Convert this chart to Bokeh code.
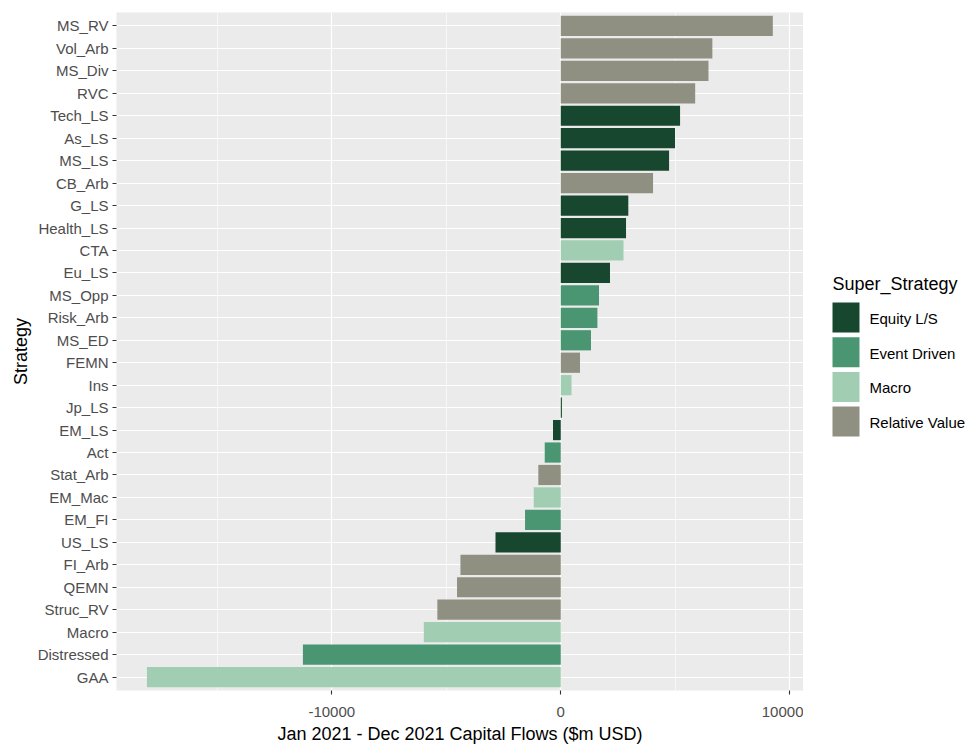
from bokeh.plotting import figure
from bokeh.models import (ColumnDataSource, FactorRange, Range1d, FixedTicker,
                          NumeralTickFormatter)
from bokeh.layouts import row
from bokeh.core.properties import value
from bokeh.embed import file_html
from bokeh.resources import INLINE

# ---- data (top of chart to bottom) ----
strategies = ["MS_RV", "Vol_Arb", "MS_Div", "RVC", "Tech_LS", "As_LS", "MS_LS",
              "CB_Arb", "G_LS", "Health_LS", "CTA", "Eu_LS", "MS_Opp", "Risk_Arb",
              "MS_ED", "FEMN", "Ins", "Jp_LS", "EM_LS", "Act", "Stat_Arb",
              "EM_Mac", "EM_FI", "US_LS", "FI_Arb", "QEMN", "Struc_RV", "Macro",
              "Distressed", "GAA"]
flows = [9260, 6620, 6450, 5870, 5210, 4990, 4730,
         4030, 2950, 2850, 2740, 2150, 1670, 1600,
         1320, 840, 470, 50, -340, -700, -980,
         -1180, -1560, -2850, -4380, -4530, -5390, -5980,
         -11260, -18070]
super_strategy = ["Relative Value", "Relative Value", "Relative Value", "Relative Value",
                  "Equity L/S", "Equity L/S", "Equity L/S", "Relative Value",
                  "Equity L/S", "Equity L/S", "Macro", "Equity L/S", "Event Driven",
                  "Event Driven", "Event Driven", "Relative Value", "Macro",
                  "Equity L/S", "Equity L/S", "Event Driven", "Relative Value",
                  "Macro", "Event Driven", "Equity L/S", "Relative Value",
                  "Relative Value", "Relative Value", "Macro", "Event Driven", "Macro"]
groups = ["Equity L/S", "Event Driven", "Macro", "Relative Value"]
group_colors = ["#18472F", "#4A9672", "#A1CDB2", "#8F8F82"]
x_ticks = [-10000, 0, 10000]
x_minor = [-15000, -5000, 5000]

FONT = "Liberation Sans"
color_of = dict(zip(groups, group_colors))

p = figure(width=803, height=747, output_backend="svg", toolbar_location=None,
           y_range=FactorRange(factors=list(reversed(strategies)),
                               range_padding=0.1, range_padding_units="absolute"),
           x_range=Range1d(-19400, 10600),
           min_border_left=116, min_border_top=12, min_border_right=0,
           min_border_bottom=57)

p.background_fill_color = "#EBEBEB"
p.border_fill_color = "white"
p.outline_line_color = None

src = ColumnDataSource(dict(y=strategies, v=flows,
                            c=[color_of[g] for g in super_strategy]))
p.hbar(y="y", left=0, right="v", height=0.9, source=src,
       fill_color="c", line_color=None)

# grids
p.xaxis.ticker = FixedTicker(ticks=x_ticks, minor_ticks=x_minor)
p.xgrid.grid_line_color = "white"
p.xgrid.grid_line_width = 1.2
p.xgrid.minor_grid_line_color = "white"
p.xgrid.minor_grid_line_width = 0.6
p.ygrid.grid_line_color = "white"
p.ygrid.grid_line_width = 1.2

# axes
for ax in (p.xaxis[0], p.yaxis[0]):
    ax.axis_line_color = None
    ax.major_tick_line_color = "#333333"
    ax.major_tick_line_width = 1.1
    ax.major_tick_out = 4
    ax.major_tick_in = 0
    ax.minor_tick_line_color = None
    ax.major_label_text_font = FONT
    ax.major_label_text_font_size = "15px"
    ax.major_label_text_color = "#4D4D4D"
    ax.axis_label_text_font = FONT
    ax.axis_label_text_font_size = "18px"
    ax.axis_label_text_font_style = "normal"
    ax.axis_label_text_color = "black"

p.xaxis.formatter = NumeralTickFormatter(format="0")
p.xaxis.axis_label = "Jan 2021 - Dec 2021 Capital Flows ($m USD)"
p.xaxis.major_label_standoff = 12
p.xaxis.axis_label_standoff = 4
p.yaxis.axis_label = "Strategy"
p.yaxis.major_label_standoff = 4
p.yaxis.axis_label_standoff = 4

# ---- legend panel (separate figure on the right) ----
# In a row, the frame of this figure is aligned with the main frame (y 12..690),
# so the y range is set to those pixel rows.
lg = figure(width=163, height=747, output_backend="svg", toolbar_location=None,
            x_range=Range1d(0, 163), y_range=Range1d(690, 12),
            x_axis_location=None, y_axis_location=None,
            min_border=0, min_border_left=0, min_border_right=0,
            min_border_top=12, min_border_bottom=57)
lg.grid.visible = False
lg.outline_line_color = None
lg.background_fill_color = None
lg.border_fill_color = "white"

key_left, key_w, key_h, key_step, key_top0 = 29, 27, 30, 34.7, 302
tops = [key_top0 + key_step * i for i in range(len(groups))]
ksrc = ColumnDataSource(dict(
    left=[key_left] * len(groups), right=[key_left + key_w] * len(groups),
    top=tops, bottom=[t + key_h for t in tops],
    color=group_colors, label=groups,
    lx=[key_left + key_w + 10] * len(groups),
    ly=[t + key_h / 2 + 1 for t in tops]))
lg.quad(left="left", right="right", top="top", bottom="bottom",
        fill_color="color", line_color=None, source=ksrc)
lg.text(x="lx", y="ly", text="label", source=ksrc, text_font=value(FONT),
        text_font_size="15px", text_baseline="middle", text_align="left",
        text_color="black")
lg.text(x=[key_left], y=[283], text=["Super_Strategy"], text_font=value(FONT),
        text_font_size="18px", text_baseline="middle", text_align="left",
        text_color="black")

layout = row(p, lg, spacing=0)
open("out.html", "w").write(file_html(layout, INLINE))
